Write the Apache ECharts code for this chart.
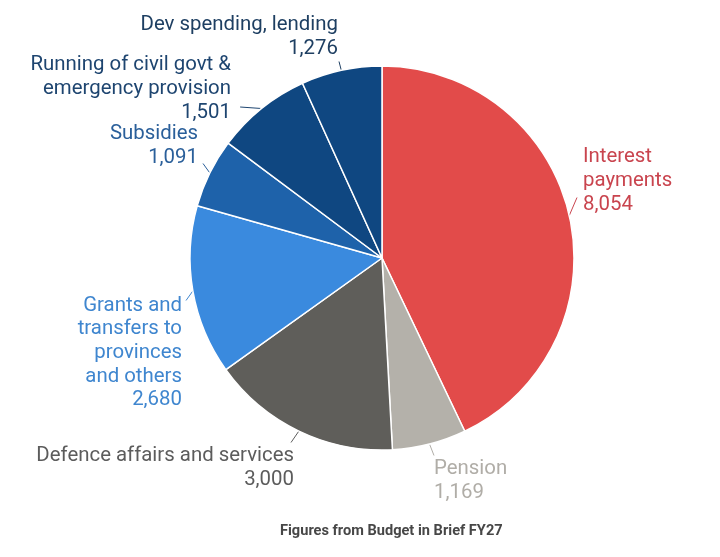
<!DOCTYPE html>
<html>
<head>
<meta charset="utf-8">
<script src="https://cdn.jsdelivr.net/npm/echarts@6/dist/echarts.min.js"></script>
<style>
  html, body { margin: 0; padding: 0; background: #fff; }
  #chart { width: 720px; height: 557px; }
</style>
</head>
<body>
<div id="chart"></div>
<script>
const categories = [
  'Interest\npayments',
  'Pension',
  'Defence affairs and services',
  'Grants and\ntransfers to\nprovinces\nand others',
  'Subsidies',
  'Running of civil govt &\nemergency provision',
  'Dev spending, lending'
];
const values = [8054, 1169, 3000, 2680, 1091, 1501, 1276];
const sliceColors = ['#e24b4a', '#b4b1aa', '#5f5e5a', '#3a8ade', '#1e62aa', '#0f4781', '#0f4781'];
const labelColors = ['#c9444e', '#b0ada7', '#5c5c5c', '#3f86cf', '#2a5f9a', '#1e4570', '#1e3f62'];

// where each label block sits (x, y = middle of text block)
const labelSpots = [
  { x: 583, y: 181, align: 'left' },
  { x: 434, y: 481, align: 'left' },
  { x: 294, y: 468, align: 'right' },
  { x: 182, y: 353, align: 'right' },
  { x: 198, y: 146, align: 'right' },
  { x: 231, y: 89, align: 'right' },
  { x: 338, y: 37, align: 'right' }
];
// where each leader line ends, next to its label (it starts at the slice's mid-angle)
const leaderEnds = [
  { x: 577, y: 197 },
  { x: 434, y: 456 },
  { x: 291, y: 443 },
  { x: 186, y: 301 },
  { x: 203, y: 163 },
  { x: 240, y: 107 },
  { x: 339, y: 61 }
];

const fmt = v => v.toLocaleString('en-US');

const chart = echarts.init(document.getElementById('chart'));

const pieBase = {
  type: 'pie',
  center: [382, 258],
  radius: 192,
  startAngle: 90,
  clockwise: true,
  avoidLabelOverlap: false,
  emphasis: { disabled: true }
};

chart.setOption({
  animation: false,
  title: {
    text: 'Figures from Budget in Brief FY27',
    left: 275,
    top: 519,
    textStyle: { fontFamily: 'Roboto', fontSize: 14.6, fontWeight: 'bold', color: '#474747' }
  },
  series: [
    Object.assign({}, pieBase, {
      itemStyle: { borderColor: '#fff', borderWidth: 1.5 },
      label: {
        show: true,
        position: 'outside',
        fontFamily: 'Roboto',
        fontSize: 20.4,
        lineHeight: 23.7,
        formatter: p => p.name + '\n' + fmt(p.value)
      },
      labelLine: { show: false },
      labelLayout: p => {
        const s = labelSpots[p.dataIndex];
        return { x: s.x, y: s.y, align: s.align, verticalAlign: 'middle' };
      },
      data: categories.map((name, i) => ({
        name,
        value: values[i],
        itemStyle: { color: sliceColors[i] },
        label: { color: labelColors[i], align: labelSpots[i].align }
      }))
    }),
    // same pie again, invisible, only to carry the leader lines
    Object.assign({}, pieBase, {
      silent: true,
      itemStyle: { color: 'rgba(0,0,0,0)', borderWidth: 0 },
      label: { show: true, position: 'outside', formatter: '.', fontSize: 1, color: 'rgba(0,0,0,0)' },
      labelLine: { show: true, length: 4, length2: 0, smooth: 0.3, lineStyle: { width: 1 } },
      labelLayout: p => {
        const e = leaderEnds[p.dataIndex];
        return { x: e.x, y: e.y, align: 'center', verticalAlign: 'middle' };
      },
      data: categories.map((name, i) => ({
        name,
        value: values[i],
        labelLine: { lineStyle: { color: labelColors[i] } }
      }))
    })
  ]
});
</script>
</body>
</html>
